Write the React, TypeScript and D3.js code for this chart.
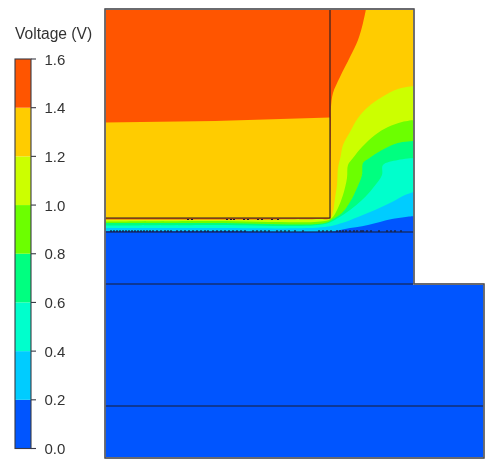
import React from "react";
import * as d3 from "d3";

type P = [number, number];

const levelTicks = [0, 0.2, 0.4, 0.6, 0.8, 1.0, 1.2, 1.4, 1.6];
const bandColors = ["#0055ff", "#00ccff", "#00ffcc", "#00ff80", "#6cff00", "#ccff00", "#ffcc00", "#ff5500"];

// Device geometry in device units
const deviceW = 379;
const deviceH = 449;
const upperRight = 309;
const oxideTop = 223;
const stepY = 275;
const layerY = 397;
const gateRight = 225;
const gateBottom = 209;

// Contour boundaries (device units)
const gateSplit: P[] = [[0, 113.5], [110, 112], [225, 108.5]];
const c14: P[] = [[226, 108], [226, 98], [228, 84], [235, 68], [245, 48], [253, 31], [258, 14], [261, 0]];
const c12: P[] = [[309, 77], [293, 80], [277, 88], [263, 98], [253, 109], [245, 123], [238, 136], [235.5, 148], [233, 159], [232, 176], [230, 189], [228, 203], [225, 209.5], [215, 210], [110, 210.5], [0, 210.5]];
const c10: P[] = [[309, 111], [297, 113], [283, 118], [270, 126], [257, 138], [248, 149], [243, 156], [242, 169], [238, 186], [233, 199], [227, 209], [220, 212], [110, 212], [0, 212.5]];
const c08: P[] = [[309, 132], [293, 134], [277, 141], [263, 150], [258, 154], [257, 166], [252, 179], [245, 193], [237, 204], [228, 210], [220, 214], [110, 214], [0, 214]];
const c06: P[] = [[309, 149], [293, 151], [278, 156], [277, 166], [268, 179], [257, 191], [245, 201], [233, 209], [220, 215], [110, 216], [0, 216.5]];
const c04: P[] = [[309, 183], [300, 186], [287, 193], [270, 201], [253, 208], [237, 214], [220, 218], [110, 219], [0, 219]];
const c02: P[] = [[309, 207], [287, 210], [263, 216], [240, 220], [230, 222], [110, 222], [0, 222]];

// Small meshing artefacts along the interfaces
const oxideSpecks = [6, 9, 12, 15, 18, 21, 24, 27, 30, 33, 36, 39, 42, 45, 48, 52, 56, 60, 63, 66, 72, 76, 80, 84, 88, 92, 96, 100, 103, 108, 112, 116, 120, 124, 128, 132, 136, 140, 148, 152, 156, 160, 164, 172, 176, 180, 184, 190, 198, 214, 218, 222, 226, 232, 235, 238, 241, 245, 249, 252, 256, 258, 262, 266, 274, 282, 286, 290, 296];
const gateSpecks = [82, 86, 121, 125, 128, 138, 142, 152, 156, 166, 172];

const xS = d3.scaleLinear().domain([0, deviceW]).range([105, 484]);
const yS = d3.scaleLinear().domain([0, deviceH]).range([9, 458]);
const vS = d3.scaleLinear().domain([0, 1.6]).range([448.5, 59]);

const curve = d3.line<P>().x(p => xS(p[0])).y(p => yS(p[1])).curve(d3.curveCatmullRom.alpha(0.5));
const poly = (pts: P[]) => {
  const s = curve(pts) as string;
  const last = pts[pts.length - 1];
  return `${s}L${xS(last[0])},${yS(oxideTop)}L${xS(upperRight)},${yS(oxideTop)}Z`;
};
const r14 = `${curve(c14)}L${xS(upperRight)},${yS(0)}L${xS(upperRight)},${yS(oxideTop)}L${xS(gateRight)},${yS(oxideTop)}Z`;
const lowerBands: [P[], string][] = [
  [c12, bandColors[5]],
  [c10, bandColors[4]],
  [c08, bandColors[3]],
  [c06, bandColors[2]],
  [c04, bandColors[1]],
  [c02, bandColors[0]],
];

const lineC = "#1c1c2e";
const font = "'Liberation Sans', Arial, sans-serif";

export default function App() {
  const outline = `M${xS(0)},${yS(0)}H${xS(upperRight)}V${yS(stepY)}H${xS(deviceW)}V${yS(deviceH)}H${xS(0)}Z`;
  return (
    <svg width={485} height={459} style={{ position: "absolute", left: 0, top: 0 }}>
      <defs>
        <filter id="soft" x="-5%" y="-5%" width="110%" height="110%">
          <feGaussianBlur stdDeviation="0.35" />
        </filter>
      </defs>
      <rect width={485} height={459} fill="#fff" />
      <g filter="url(#soft)">
        <rect x={xS(0)} y={yS(0)} width={xS(upperRight) - xS(0)} height={yS(oxideTop) - yS(0)} fill={bandColors[7]} />
        <path d={r14} fill={bandColors[6]} />
        {lowerBands.map(([pts, c], i) => <path key={i} d={poly(pts)} fill={c} />)}
        <path
          d={`M${xS(gateSplit[0][0])},${yS(gateSplit[0][1])}` +
            gateSplit.slice(1).map(p => `L${xS(p[0])},${yS(p[1])}`).join("") +
            `V${yS(gateBottom)}H${xS(0)}Z`}
          fill={bandColors[6]}
        />
        <rect x={xS(0)} y={yS(oxideTop)} width={xS(upperRight) - xS(0)} height={yS(stepY) - yS(oxideTop)} fill={bandColors[0]} />
        <rect x={xS(0)} y={yS(stepY)} width={xS(deviceW) - xS(0)} height={yS(deviceH) - yS(stepY)} fill={bandColors[0]} />
        {oxideSpecks.map((x, i) => (
          <line key={i} x1={xS(x)} x2={xS(x)} y1={yS(oxideTop) - 2} y2={yS(oxideTop)} stroke={lineC} strokeWidth={1.2} />
        ))}
        {gateSpecks.map((x, i) => (
          <line key={i} x1={xS(x)} x2={xS(x) + 2} y1={yS(gateBottom) + 1.5} y2={yS(gateBottom) + 1.5} stroke={lineC} strokeWidth={1.2} />
        ))}
        <path d={`M${xS(gateRight)},${yS(0)}V${yS(gateBottom)}H${xS(0)}`} fill="none" stroke={lineC} strokeWidth={1.1} />
        <line x1={xS(0)} x2={xS(upperRight)} y1={yS(oxideTop)} y2={yS(oxideTop)} stroke={lineC} strokeWidth={1.1} />
        <line x1={xS(0)} x2={xS(deviceW)} y1={yS(stepY)} y2={yS(stepY)} stroke={lineC} strokeWidth={1.1} />
        <line x1={xS(0)} x2={xS(deviceW)} y1={yS(layerY)} y2={yS(layerY)} stroke={lineC} strokeWidth={1.1} />
        <path d={outline} fill="none" stroke="#8a8a8a" strokeWidth={1.8} />
        <path d={outline} fill="none" stroke="#3a3a44" strokeWidth={0.8} />
        {bandColors.map((c, i) => (
          <rect key={i} x={15} y={vS(levelTicks[i + 1])} width={16} height={vS(levelTicks[i]) - vS(levelTicks[i + 1])} fill={c} />
        ))}
        <rect x={15} y={vS(1.6)} width={16} height={vS(0) - vS(1.6)} fill="none" stroke="#3a3a44" strokeWidth={1.1} />
        {levelTicks.map(t => (
          <line key={t} x1={31} x2={36} y1={vS(t)} y2={vS(t)} stroke="#3a3a44" strokeWidth={1.1} />
        ))}
        {levelTicks.map(t => (
          <text key={t} x={44.5} y={vS(t) + 5.5} fontFamily={font} fontSize={15} fill="#333">{t.toFixed(1)}</text>
        ))}
        <text x={15} y={39} fontFamily={font} fontSize={15.6} fill="#333">Voltage (V)</text>
      </g>
    </svg>
  );
}
